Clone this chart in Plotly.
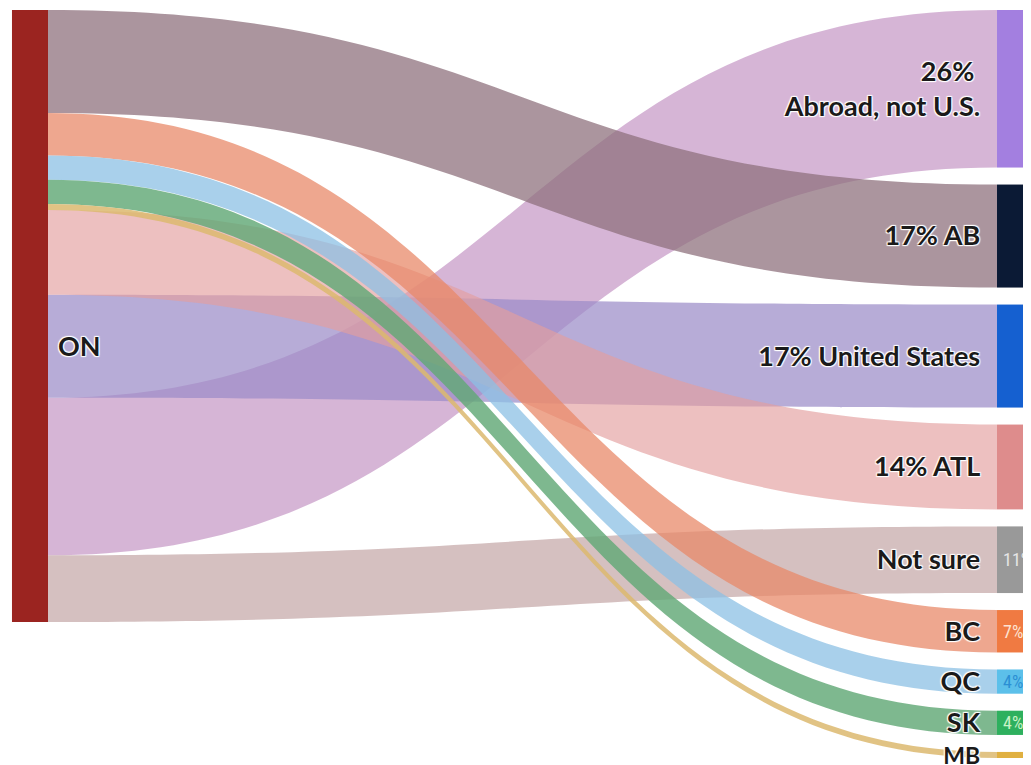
import plotly.graph_objects as go

# ---- data ----
targets = ["Abroad, not U.S.", "AB", "United States", "ATL", "Not sure", "BC", "QC", "SK", "MB"]
values = [26, 17, 17, 14, 11, 7, 4, 4, 1]
NB = "\u00a0"
target_labels = ["<b>26%" + NB * 3 + "<br>Abroad, not U.S.</b>", "<b>17% AB</b>", "<b>17% United States</b>",
                 "<b>14% ATL</b>", "<b>Not sure</b>", "<b>BC</b>", "<b>QC</b>", "<b>SK</b>",
                 "<b><span style='font-size:23px'>MB</span></b>"]
source_label = "ON"
# order of the flows as they leave the ON bar (top to bottom)
source_order = ["AB", "BC", "QC", "SK", "MB", "ATL", "United States", "Abroad, not U.S.", "Not sure"]
inner_pct = {"Not sure": "11%", "BC": "7%", "QC": "4%", "SK": "4%"}
inner_pct_color = {"Not sure": "#e6e6e6", "BC": "#fde2d2", "QC": "#2b8fd4", "SK": "#c9f2c6"}

node_colors = ["#a37fe0", "#0b1a35", "#1560d0", "#de8c8c", "#999999", "#f07a42", "#5cc0ea", "#2eb05e", "#e0b040"]
link_colors = ["rgba(198,152,198,0.72)", "rgba(142,112,124,0.74)", "rgba(155,140,200,0.72)",
               "rgba(228,158,158,0.65)", "rgba(192,160,160,0.66)", "rgba(232,136,104,0.74)",
               "rgba(140,192,228,0.75)", "rgba(98,168,118,0.82)", "rgba(220,185,110,0.85)"]
on_color = "#9b2420"

# ---- layout geometry ----
W_FIG, H_FIG = 1031, 765
ML, MR, MT, MB_ = 21, 23, 2, 15
H = H_FIG - MT - MB_
PAD = 17
total = sum(values)
ky = (H - (len(values) - 1) * PAD) / total

idx = {t: i for i, t in enumerate(targets)}

# target node positions
tgt_y = []
cum = 0
tgt_center = {}
for t, v in zip(targets, values):
    h = v * ky
    tgt_y.append((cum + h / 2) / H)
    tgt_center[t] = (cum + h / 2) / H
    cum += h + PAD

# ---- trace 1: flows (ON bar split per flow so the flows leave in the drawn order) ----
labels, colors, xs, ys = [], [], [], []
cum = 0
src_node_of = {}
for t in source_order:
    h = values[idx[t]] * ky
    src_node_of[t] = len(labels)
    labels.append(NB + "<b>" + source_label + "</b>" if t == "United States" else "")
    colors.append(on_color)
    xs.append(0.001)
    ys.append((cum + h / 2) / H)
    cum += h
on_height = cum
tgt_node_of = {}
for t, lab, c, yy in zip(targets, target_labels, node_colors, tgt_y):
    tgt_node_of[t] = len(labels)
    labels.append(lab + NB * 2)
    colors.append(c)
    xs.append(0.999)
    ys.append(yy)

src, tgt, val, lcol = [], [], [], []
for t, v, lc in zip(targets, values, link_colors):
    src.append(src_node_of[t])
    tgt.append(tgt_node_of[t])
    val.append(v)
    lcol.append(lc)

fig = go.Figure()
fig.add_trace(go.Sankey(
    arrangement="fixed",
    node=dict(label=labels, color=colors, x=xs, y=ys, pad=PAD, thickness=36,
              line=dict(width=0), hoverinfo="skip"),
    link=dict(source=src, target=tgt, value=val, color=lcol, hoverinfo="skip"),
    textfont=dict(family="Lato", size=27, color="#1a1a1a"),
))

# ---- trace 2: one solid ON bar drawn over the split bar (invisible flows) ----
labels2 = [""] + [""] * len(targets)
colors2 = [on_color] + ["rgba(0,0,0,0)"] * len(targets)
xs2 = [0.001] + [0.999] * len(targets)
ys2 = [(on_height / 2) / H] + tgt_y
fig.add_trace(go.Sankey(
    arrangement="fixed",
    node=dict(label=labels2, color=colors2, x=xs2, y=ys2, pad=PAD, thickness=36,
              line=dict(width=0), hoverinfo="skip"),
    link=dict(source=[0] * len(targets), target=list(range(1, len(targets) + 1)), value=values,
              color="rgba(0,0,0,0)", hoverinfo="skip"),
))

for t, txt in inner_pct.items():
    fig.add_annotation(x=1, y=1 - tgt_center[t], xref="paper", yref="paper",
                       xanchor="left", yanchor="middle", xshift=-15, showarrow=False,
                       text=txt, font=dict(family="Roboto Condensed, Roboto", size=18,
                                           color=inner_pct_color[t]))

fig.update_layout(width=W_FIG, height=H_FIG, margin=dict(l=ML, r=MR, t=MT, b=MB_),
                  paper_bgcolor="white", plot_bgcolor="white")
fig.write_html("out.html")
